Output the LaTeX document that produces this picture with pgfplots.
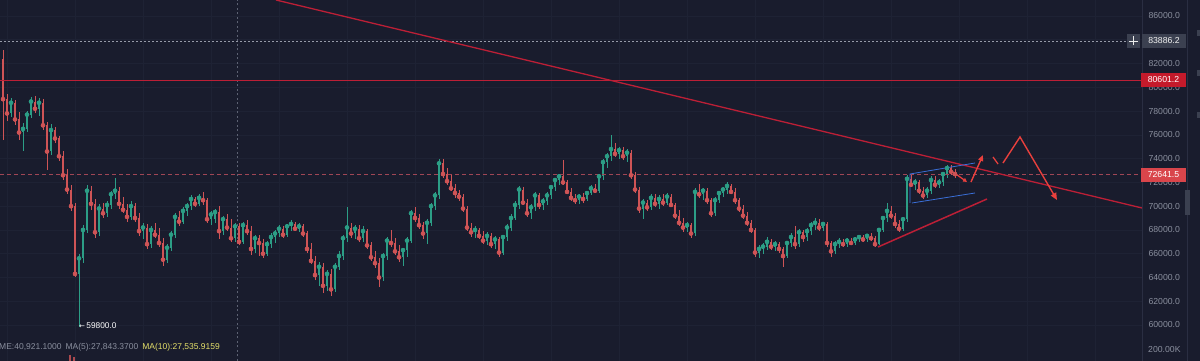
\documentclass[border=0pt]{standalone}
\usepackage{fontspec}
\setmainfont{Liberation Sans}
\newfontfamily\dejavu{DejaVu Sans}
\usepackage{pgfplots}
\usepackage{pgfplotstable}
\pgfplotsset{compat=1.18}
\usetikzlibrary{arrows.meta}

\definecolor{bg}{HTML}{191C2D}
\definecolor{gridc}{HTML}{1E2234}
\definecolor{sepc}{HTML}{2A2E42}
\definecolor{upc}{HTML}{2C9E86}
\definecolor{dnc}{HTML}{CF5456}
\definecolor{labc}{HTML}{8A8F9E}
\definecolor{trendred}{HTML}{BC1F36}
\definecolor{arrred}{HTML}{E8403D}
\definecolor{boxgray}{HTML}{3B4050}
\definecolor{boxred}{HTML}{C41A2B}
\definecolor{boxred2}{HTML}{D9454B}
\definecolor{chanblue}{HTML}{3A6FD8}
\definecolor{pinkdash}{HTML}{A04655}
\definecolor{crossc}{HTML}{5D6273}
\definecolor{maye}{HTML}{E5E06A}

\pgfplotstableread{
x o h l c
3 82400 83100 75600 79000
7 79000 79400 77200 77800
11 77800 79100 77500 78700
15 78700 78900 76800 77300
19 77300 77900 75600 76200
23 76200 77000 74600 76500
27 76500 78000 76200 77700
31 77700 79200 77400 78800
35 78800 79300 77800 78200
39 78200 79100 77600 78700
43 78700 79000 76400 76800
47 76800 77100 73000 74600
51 74600 76900 74300 76400
55 76400 76700 75300 75700
59 75700 75900 73800 74200
63 74200 74600 72200 72600
67 72600 73100 71000 71400
71 71400 71800 69600 70000
75 70000 70300 64000 64300
79 64300 66000 59800 65600
83 65600 68400 65200 68000
87 68000 71800 67700 71300
91 71300 71700 69700 70200
95 70200 70600 67300 67800
99 67800 70200 67500 69800
103 69800 70300 69000 69400
107 69400 70400 69100 70100
111 70100 71300 69800 71000
115 71000 72400 70600 71300
119 71300 71600 69800 70200
123 70200 70800 69400 69700
127 69700 70200 68700 69100
131 69100 70400 68800 70000
135 70000 70300 68700 69000
139 69000 69400 67500 67900
143 67900 68600 67200 68200
147 68200 68500 66400 66800
151 66800 68300 66500 68000
155 68000 68600 67300 67600
159 67600 68200 66600 66900
163 66900 67300 65000 65500
167 65500 66800 65200 66500
171 66500 67900 66200 67600
175 67600 69400 67300 69100
179 69100 69600 68300 68700
183 68700 69900 68500 69600
187 69600 70300 69200 70000
191 70000 70900 69700 70600
195 70600 70800 69900 70200
199 70200 71000 70000 70700
203 70700 71200 70100 70500
207 70500 70700 68600 68900
211 68900 69600 68400 69300
215 68900 69800 68600 69500
219 69500 70000 67200 67900
223 67900 69200 67600 68900
227 68900 69300 67900 68200
231 68200 68900 67000 67300
235 67300 68600 67000 68300
239 68300 68600 66700 67000
243 67000 68700 66800 68400
247 68400 68800 67600 67900
251 67900 68300 65900 66400
255 66400 67600 66100 67300
259 67300 67600 65800 66900
263 66900 67200 65600 66000
267 66000 67100 65800 66800
271 66800 67700 66500 67400
275 67400 68000 66900 67700
279 67700 68400 67400 68100
283 68100 68300 67300 67600
287 67600 68500 67400 68300
291 68300 68800 67900 68500
295 68500 68700 67900 68100
299 68100 68600 67800 68300
303 68300 68500 67400 67700
307 67700 67900 66100 66400
311 66400 66900 65100 65400
315 65400 65800 63800 64200
319 64200 65300 63300 64900
323 64900 65200 62700 63300
327 63300 64600 62900 64300
331 64300 64700 62400 63000
335 63000 65200 62800 64900
339 64900 66200 64600 65800
343 65800 67600 65500 67300
347 67300 69900 67000 68200
351 68200 68600 67300 67700
355 67700 68400 67200 68100
359 68100 68400 67000 67300
363 67300 68300 67000 67900
367 67900 68100 66400 66700
371 66700 67000 65400 65700
375 65700 66200 64800 65200
379 65200 65600 63200 64000
383 64000 66100 63700 65800
387 65800 67400 65500 67100
391 67100 68000 66600 66900
395 66900 67300 65900 66200
399 66200 66700 65300 65700
403 65700 66500 65000 66300
407 66300 67400 65700 67100
411 67100 69700 66900 69400
415 69400 69900 68700 69000
419 69000 69300 68100 68400
423 68400 68700 67200 67700
427 67700 68900 66800 68600
431 68600 70300 68300 70000
435 70000 71200 69700 70900
439 70900 74000 70600 73600
443 73600 74000 72400 72700
447 72700 73200 71800 72100
451 72100 72700 71300 71500
455 71500 71900 70700 71100
459 71100 71400 70400 70800
463 70800 71000 69500 69800
467 69800 70000 67900 68200
471 68200 68600 67400 67800
475 67800 68300 67300 68000
479 68000 68200 67200 67500
483 67500 67900 66800 67100
487 67100 67800 66700 67500
491 67500 67700 66500 66800
495 66800 67500 66400 67200
499 67200 67400 65700 66100
503 66100 67600 65900 67400
507 67400 68500 67100 68200
511 68200 69300 67900 69000
515 69000 70400 68800 70100
519 70100 71700 69800 71400
523 71400 71600 70100 70300
527 70300 70600 69100 69400
531 69400 70200 68900 69900
535 69900 71200 69600 70900
539 70900 71100 69800 70100
543 70100 70700 69700 70400
547 70400 71200 70100 70900
551 70900 71800 70600 71600
555 71600 72400 71300 72200
559 72200 72700 71800 72500
563 72500 73900 71800 72000
567 72000 72200 71000 71200
571 71200 71500 70400 70700
575 70700 71000 70200 70500
579 70500 71000 70200 70800
583 70800 71100 70300 70600
587 70600 71300 70400 71100
591 71100 71800 70900 71500
595 71500 71900 71100 71300
599 71300 72700 71100 72500
603 72500 74000 72200 73700
607 73700 74500 73200 74200
611 74200 76000 73800 74800
615 74800 75300 74100 74400
619 74400 75000 74000 74700
623 74700 75000 73900 74200
627 74200 74800 73700 74500
631 74500 74700 72300 72600
635 72600 72900 71100 71400
639 71400 71600 69400 69800
643 69800 70600 68900 70300
647 70300 70500 69600 69900
651 69900 71000 69700 70700
655 70700 71000 69900 70200
659 70200 70900 69800 70600
663 70600 71000 70000 70300
667 70300 71100 70100 70800
671 70800 71000 69900 70100
675 70100 70300 68900 69200
679 69200 69700 68300 68600
683 68600 69000 67800 68200
687 68200 68700 67800 68400
691 68400 68600 67300 67700
695 67700 71500 67500 71200
699 71200 71900 70700 71000
703 71000 71500 70500 71300
707 71300 71500 70200 70500
711 70500 70700 69100 69400
715 69400 70800 69200 70500
719 70500 71300 70300 71100
723 71100 71600 70800 71400
727 71400 72000 71000 71700
731 71700 71900 71000 71200
735 71200 71500 70200 70500
739 70500 70700 69500 69800
743 69800 70100 68900 69200
747 69200 69500 68300 68600
751 68600 68800 67700 68000
755 68000 68200 65700 66100
759 66100 66700 65600 66400
763 66400 66900 66000 66600
767 66600 67400 66300 67000
771 67000 67200 66300 66600
775 66600 67100 66200 66800
779 66800 67000 66100 66400
783 66400 66600 64900 65800
787 65800 67100 65600 66900
791 66900 67700 66600 67400
795 67400 68300 66400 66800
799 66800 68100 66600 67800
803 67800 68000 67000 67400
807 67400 68200 67100 67900
811 67900 68700 67600 68400
815 68400 69000 68000 68600
819 68600 68900 67900 68200
823 68200 68700 67900 68500
827 68500 68700 66600 66900
831 66900 67100 65700 66200
835 66200 67100 66000 66800
839 66800 67300 66500 67000
843 67000 67200 66600 66800
847 66800 67300 66600 67100
851 67100 67300 66700 66900
855 66900 67400 66700 67200
859 67200 67600 67000 67400
863 67400 67600 67000 67200
867 67200 67600 67000 67500
871 67500 67700 67100 67300
875 67300 67500 66600 66800
879 66800 68200 66700 68000
883 68000 69200 67800 69000
887 69000 70300 68700 69600
891 69600 70000 68900 69200
895 69200 69400 68200 68500
899 68500 68800 67800 68100
903 68100 69100 67900 68900
907 68900 72600 68700 72300
911 72300 72600 71600 71800
915 71800 72300 71400 72000
919 72000 72200 71000 71300
923 71300 71600 70600 70900
927 70900 71600 70700 71300
931 71300 72500 71000 72200
935 72200 72500 71500 71800
939 71800 72300 71500 72000
943 72000 72900 71700 72700
947 72700 73500 72400 73200
951 73200 73500 72600 72900
955 72900 73100 72400 72700
}\candles

\begin{document}
\begin{tikzpicture}
\path[use as bounding box, fill=bg] (0,0) rectangle (1200pt,361pt);
\begin{axis}[
  at={(0,0)}, anchor=south west,
  scale only axis, width=1142pt, height=361pt,
  xmin=0, xmax=1142, ymin=56971, ymax=87346,
  axis line style={draw=none},
  clip=false,
  xtick={7,75,...,1100}, xticklabels={},
  ytick={60000,62000,...,86000},
  xmajorgrids, ymajorgrids,
  grid style={gridc, line width=0.6pt},
  major tick length=0pt,
  ytick pos=right, yticklabel pos=right,
  /pgf/number format/assume math mode=true,
  scaled y ticks=false,
  yticklabel style={anchor=west, xshift=3pt, text=labc,
    font=\fontsize{8.7}{10}\selectfont,
    /pgf/number format/fixed, /pgf/number format/fixed zerofill,
    /pgf/number format/precision=1, /pgf/number format/1000 sep={}},
]
% green wicks
\addplot[upc, only marks, mark=none, restrict y to domain=0:200000,
  error bars/.cd, y dir=both, y explicit, error mark=none,
  error bar style={line width=0.6pt}]
  table[x=x, y expr={\thisrow{c}>=\thisrow{o} ? \thisrow{c} : -1000000},
        y error plus expr={\thisrow{h}-\thisrow{c}},
        y error minus expr={\thisrow{c}-\thisrow{l}}]{\candles};
% green bodies
\addplot[upc, only marks, mark=none, restrict y to domain=0:200000,
  error bars/.cd, y dir=both, y explicit, error mark=none,
  error bar style={line width=1.9pt}]
  table[x=x, y expr={\thisrow{c}>=\thisrow{o} ? \thisrow{c} : -1000000},
        y error plus expr={0},
        y error minus expr={\thisrow{c}-\thisrow{o}}]{\candles};
% red wicks
\addplot[dnc, only marks, mark=none, restrict y to domain=0:200000,
  error bars/.cd, y dir=both, y explicit, error mark=none,
  error bar style={line width=0.6pt}]
  table[x=x, y expr={\thisrow{c}<\thisrow{o} ? \thisrow{c} : -1000000},
        y error plus expr={\thisrow{h}-\thisrow{c}},
        y error minus expr={\thisrow{c}-\thisrow{l}}]{\candles};
% red bodies
\addplot[dnc, only marks, mark=none, restrict y to domain=0:200000,
  error bars/.cd, y dir=both, y explicit, error mark=none,
  error bar style={line width=1.9pt}]
  table[x=x, y expr={\thisrow{c}<\thisrow{o} ? \thisrow{c} : -1000000},
        y error plus expr={\thisrow{o}-\thisrow{c}},
        y error minus expr={0}]{\candles};

% crosshair and horizontal levels
\draw[crossc, line width=0.8pt, dash pattern=on 2pt off 2.5pt] (axis cs:237,56971) -- (axis cs:237,87346);
\draw[labc!90!white, line width=0.8pt, dash pattern=on 1.5pt off 2.5pt] (axis cs:0,83886.2) -- (axis cs:1126,83886.2);
\draw[trendred, line width=1.3pt] (axis cs:0,80601.2) -- (axis cs:1142,80601.2);
\draw[pinkdash, line width=0.9pt, dash pattern=on 4pt off 3pt] (axis cs:0,72641.5) -- (axis cs:1142,72641.5);
% long descending trend line
\draw[trendred, line width=1.3pt] (axis cs:276,87346) -- (axis cs:1142,69845);
% rising support line
\draw[trendred, line width=1.5pt] (axis cs:878,66564) -- (axis cs:987,70602);
% blue channel
\draw[chanblue, line width=0.8pt] (axis cs:910,70266) -- (axis cs:910,72706) -- (axis cs:975,73631);
\draw[chanblue, line width=0.8pt] (axis cs:912,70266) -- (axis cs:975,71107);
% projected path arrows
\draw[arrred, line width=1.3pt, -{Triangle[length=4pt,width=4pt]}] (axis cs:953,72874) -- (axis cs:967,72033);
\draw[arrred, line width=1.4pt, -{Triangle[length=6pt,width=5pt]}] (axis cs:971,72033) -- (axis cs:983,74304);
\draw[arrred, line width=1.3pt] (axis cs:993,74136) -- (axis cs:998,73547);
\draw[arrred, line width=1.4pt, -{Triangle[length=7pt,width=6pt]}] (axis cs:1003,73631) -- (axis cs:1020,75819) -- (axis cs:1057,70518);
\end{axis}

% price-scale separators
\draw[sepc, line width=0.6pt] (1142pt,0) -- (1142pt,361pt);
\draw[sepc, line width=0.6pt] (1187pt,0) -- (1187pt,361pt);
\fill[boxgray] (1185pt,146pt) rectangle (1190pt,171pt);
\fill[boxgray] (1197pt,325pt) rectangle (1200pt,331pt);
\fill[boxgray] (1197pt,285pt) rectangle (1200pt,291pt);
\fill[boxgray] (1197pt,243pt) rectangle (1200pt,249pt);

% price tags
\node[fill=boxgray, minimum width=13pt, minimum height=14pt, inner sep=0pt] at (1133.5pt,320pt) {};
\draw[white!85!gray, line width=0.8pt] (1129pt,320pt) -- (1138pt,320pt) (1133.5pt,315.5pt) -- (1133.5pt,324.5pt);
\node[fill=boxgray, text=white!90!gray, minimum width=44pt, minimum height=14pt, inner sep=0pt,
  font=\fontsize{8.7}{10}\selectfont] at (1164pt,320pt) {83886.2};
\node[fill=boxred, text=white, minimum width=45pt, minimum height=14pt, inner sep=0pt,
  font=\fontsize{8.7}{10}\selectfont] at (1163.5pt,281pt) {80601.2};
\node[fill=boxred2, text=white, minimum width=45pt, minimum height=14pt, inner sep=0pt,
  font=\fontsize{8.7}{10}\selectfont] at (1163.5pt,186pt) {72641.5};

% low marker
\node[anchor=west, text=white, inner sep=0pt, font=\fontsize{8.3}{9}\selectfont] at (79pt,35pt) {{\dejavu\fontsize{7}{8}\selectfont ←}\,59800.0};

% volume pane
\node[anchor=west, inner sep=0pt, font=\fontsize{8.5}{9}\selectfont] at (-1pt,14pt)
  {\textcolor{labc}{ME:40,921.1000}\hspace{4pt}\textcolor{labc}{MA(5):27,843.3700}\hspace{4pt}\textcolor{maye}{MA(10):27,535.9159}};
\node[anchor=west, inner sep=0pt, text=labc, font=\fontsize{8.7}{10}\selectfont] at (1148pt,11pt) {200.00K};
\fill[dnc!80!bg] (69pt,0) rectangle (71pt,6pt);
\fill[dnc!80!bg] (73pt,0) rectangle (75pt,4pt);
\end{tikzpicture}
\end{document}
